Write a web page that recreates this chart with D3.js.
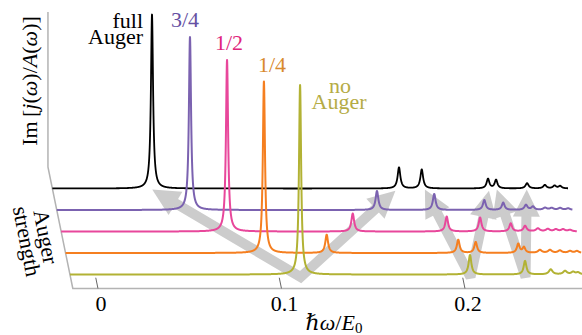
<!DOCTYPE html>
<html><head><meta charset="utf-8">
<script src="https://cdn.jsdelivr.net/npm/d3@7"></script>
<style>html,body{margin:0;padding:0;background:#fff;} svg{display:block;}</style>
</head><body>
<svg id="chart" width="582" height="335"></svg>
<script>
// ---------------- data ----------------
// series, back (full Auger) to front (no Auger)
const seriesNames = ["full Auger", "3/4", "1/2", "1/4", "no Auger"];
// peaks: [omega (ħω/E0), height (relative), half-width]
const peaksFull = [
  [0.0406, 1.000, 0.0007], [0.1752, 0.121, 0.0009], [0.1876, 0.109, 0.0009],
  [0.2237, 0.055, 0.0009], [0.2281, 0.049, 0.0009], [0.2450, 0.030, 0.0010],
  [0.2547, 0.020, 0.0010], [0.2600, 0.016, 0.0010], [0.2630, 0.014, 0.0010]
];
const peaksThreeQuarter = [
  [0.0589, 0.994, 0.0007], [0.1608, 0.109, 0.0009], [0.1920, 0.092, 0.0009],
  [0.2193, 0.057, 0.0009], [0.2296, 0.042, 0.0009], [0.2420, 0.029, 0.0010],
  [0.2458, 0.019, 0.0010], [0.2524, 0.012, 0.0012], [0.2560, 0.011, 0.0012],
  [0.2606, 0.011, 0.0012], [0.2650, 0.009, 0.0012]
];
const peaksHalf = [
  [0.0767, 0.986, 0.0007], [0.1452, 0.103, 0.0009], [0.1964, 0.086, 0.0009],
  [0.2146, 0.080, 0.0009], [0.2313, 0.046, 0.0009], [0.2391, 0.032, 0.0010],
  [0.2461, 0.017, 0.0012], [0.2515, 0.014, 0.0012], [0.2559, 0.012, 0.0012],
  [0.2598, 0.012, 0.0012], [0.2636, 0.009, 0.0012]
];
const peaksQuarter = [
  [0.0944, 0.986, 0.0007], [0.1286, 0.105, 0.0009], [0.2003, 0.076, 0.0009],
  [0.2098, 0.063, 0.0009], [0.2330, 0.052, 0.0009], [0.2361, 0.032, 0.0009],
  [0.2448, 0.017, 0.0012], [0.2503, 0.017, 0.0012], [0.2557, 0.014, 0.0012],
  [0.2612, 0.011, 0.0012], [0.2650, 0.011, 0.0012]
];
const peaksNone = [
  [0.1117, 1.089, 0.0007], [0.2043, 0.112, 0.0009], [0.2343, 0.078, 0.0009],
  [0.2483, 0.029, 0.0012], [0.2561, 0.020, 0.0012], [0.2605, 0.014, 0.0012],
  [0.2632, 0.011, 0.0012]
];
const seriesPeaks = [peaksFull, peaksThreeQuarter, peaksHalf, peaksQuarter, peaksNone];

const omegaDomain = [-0.0137, 0.2673];
const xTicks = [0, 0.1, 0.2];
const xTickLabels = ["0", "0.1", "0.2"];

// arrows (omega, depth level): [tipLeft, vertex, tipRight]
const arrowVs = [
  [[0.0406, 0.05], [0.1117, 4.12], [0.1730, 0.10]],
  [[0.1892, 0.05], [0.2043, 4.12], [0.2240, 0.10]],
  [[0.2284, 0.05], [0.2343, 4.12], [0.2447, 0.05]]
];

// ---------------- styles ----------------
const lineColors = ["#000000", "#7b62b0", "#e8479b", "#f57f20", "#b2b234"];
const textColors = ["#000000", "#6651a3", "#e0267c", "#d88a2e", "#b5ac45"];
const FONT = "'Liberation Serif','DejaVu Serif',serif";

// ---------------- scales ----------------
const xScale = d3.scaleLinear().domain([0, 0.1]).range([77.5, 261]);     // omega at back level
const depthX = d3.scaleLinear().domain([0, 1]).range([0, 4.4]);          // skew per level
const depthY = d3.scaleLinear().domain([0, 1]).range([188.5, 210]);      // baseline per level
const amp = d3.scaleLinear().domain([0, 1]).range([0, 174]);             // signal height

const px = (w, L) => xScale(w) + depthX(L);
const py = (v, L) => depthY(L) - amp(v);

const svg = d3.select("#chart");

// ---------------- frame ----------------
const w0 = omegaDomain[0];
const frontL = 4.65, backL = -1;
const frame = d3.path();
frame.moveTo(px(w0, backL), 12);
frame.lineTo(px(w0, backL), depthY(backL));
frame.lineTo(px(w0, frontL), depthY(frontL));
frame.lineTo(590, depthY(frontL));
svg.append("path").attr("d", frame.toString())
  .attr("fill", "none").attr("stroke", "#b3b3b3").attr("stroke-width", 1.5)
  .attr("stroke-linejoin", "round");

// ticks (slanted along depth)
svg.selectAll(".tick").data(xTicks).enter().append("line")
  .attr("x1", d => px(d, frontL)).attr("y1", depthY(frontL))
  .attr("x2", d => px(d, frontL - 0.5)).attr("y2", depthY(frontL - 0.5))
  .attr("stroke", "#666").attr("stroke-width", 1);
svg.selectAll(".ticklab").data(xTicks).enter().append("text")
  .attr("x", d => px(d, frontL + 0.7)).attr("y", 311)
  .attr("text-anchor", "middle").attr("font-family", FONT).attr("font-size", 22)
  .text((d, i) => xTickLabels[i]);

// ---------------- arrows ----------------
const headLen = 27, headW = 27, shaftW = 10, arrowFill = "#cccccc";
const gArrows = svg.append("g");
arrowVs.forEach(v => {
  const pts = v.map(p => [px(p[0], p[1]), depthY(p[1])]);
  const vtx = pts[1];
  const ends = [pts[0], pts[2]].map(tip => {
    const dx = tip[0] - vtx[0], dy = tip[1] - vtx[1];
    const len = Math.hypot(dx, dy);
    const ux = dx / len, uy = dy / len;
    const bx = tip[0] - ux * headLen, by = tip[1] - uy * headLen;
    const nx = -uy, ny = ux;
    gArrows.append("path")
      .attr("d", `M${tip[0]},${tip[1]}L${bx + nx * headW / 2},${by + ny * headW / 2}L${bx - nx * headW / 2},${by - ny * headW / 2}Z`)
      .attr("fill", arrowFill);
    return [tip[0] - ux * (headLen - 2), tip[1] - uy * (headLen - 2)];
  });
  gArrows.append("path")
    .attr("d", d3.line()([ends[0], vtx, ends[1]]))
    .attr("fill", "none").attr("stroke", arrowFill).attr("stroke-width", shaftW)
    .attr("stroke-linejoin", "miter").attr("stroke-miterlimit", 2.5);
});

// ---------------- traces ----------------
function spectrum(peaks) {
  const step = 0.00004;
  const ws = d3.range(omegaDomain[0], omegaDomain[1] + step / 2, step)
    .concat(peaks.map(p => p[0])).sort((a, b) => a - b);
  return ws.map(w => [w, d3.sum(peaks, p => p[1] * p[2] * p[2] / ((w - p[0]) ** 2 + p[2] * p[2]))]);
}
seriesPeaks.forEach((peaks, L) => {
  const data = spectrum(peaks);
  svg.append("path")
    .attr("d", d3.line().x(d => px(d[0], L)).y(d => py(d[1], L))(data))
    .attr("fill", "none").attr("stroke", lineColors[L])
    .attr("stroke-width", L === 0 ? 1.8 : 2).attr("stroke-linejoin", "round");
});

// ---------------- labels ----------------
const lab = (x, y, txt, color, anchor) => svg.append("text")
  .attr("x", x).attr("y", y).attr("text-anchor", anchor || "middle")
  .attr("font-family", FONT).attr("font-size", 22).attr("fill", color).text(txt);
// two-line labels as one text element
const lab2 = (x1, x2, y, dy, l1, l2, color, anchor) => {
  const t = svg.append("text").attr("y", y).attr("text-anchor", anchor || "middle")
    .attr("font-family", FONT).attr("font-size", 22).attr("fill", color);
  t.append("tspan").attr("x", x1).text(l1);
  t.append("tspan").attr("x", x2).attr("dy", dy).text(l2);
};
lab2(143, 143, 27.5, 16, "full", "Auger", textColors[0], "end");
lab(185, 27, "3/4", textColors[1]);
lab(229, 49.5, "1/2", textColors[2]);
lab(272, 71.5, "1/4", textColors[3]);
lab2(340, 339, 93, 15.5, "no", "Auger", textColors[4]);

// y label
const yl = svg.append("text").attr("transform", "translate(37,81) rotate(-90)")
  .attr("text-anchor", "middle").attr("font-family", FONT).attr("font-size", 22);
yl.append("tspan").text("Im\u2009[");
yl.append("tspan").attr("font-style", "italic").text("j");
yl.append("tspan").text("(");
yl.append("tspan").attr("font-style", "italic").text("ω");
yl.append("tspan").text(")/");
yl.append("tspan").attr("font-style", "italic").text("A");
yl.append("tspan").text("(");
yl.append("tspan").attr("font-style", "italic").text("ω");
yl.append("tspan").text(")]");

// depth label
const dl = svg.append("text").attr("font-family", FONT).attr("font-size", 22).attr("text-anchor", "middle")
  .attr("transform", "translate(38.5,238.3) rotate(78.8)");
dl.append("tspan").attr("x", 0).attr("y", 0).text("Auger");
dl.append("tspan").attr("x", 0.6).attr("y", 19.4).text("strength");

// x label
const xl = svg.append("text").attr("x", 334).attr("y", 330).attr("text-anchor", "middle")
  .attr("font-family", FONT).attr("font-size", 22);
xl.append("tspan").attr("font-style", "italic").text("ℏω");
xl.append("tspan").text("/");
xl.append("tspan").attr("font-style", "italic").text("E");
xl.append("tspan").attr("font-size", 15).attr("dy", 3).text("0");
</script>
</body></html>
